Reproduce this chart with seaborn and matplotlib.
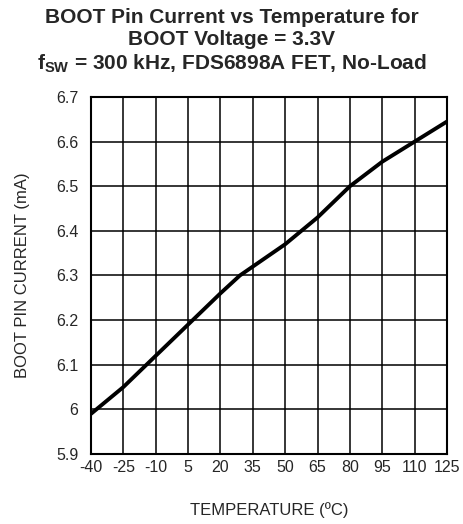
import pandas as pd
import numpy as np

import seaborn as sns
import matplotlib.pyplot as plt

sns.set_style("white")
plt.rcParams["font.family"] = ["Liberation Sans", "DejaVu Sans"]
plt.rcParams["mathtext.fontset"] = "custom"
plt.rcParams["mathtext.rm"] = "Liberation Sans:bold"
plt.rcParams["mathtext.bf"] = "Liberation Sans:bold"

DPI = 100
FIGSIZE = (4.63, 5.24)

temperature = [-40, -25, -10, 5, 20, 29, 35, 50, 65, 80, 95, 110, 125]
boot_current = [5.99, 6.05, 6.12, 6.19, 6.26, 6.30, 6.32, 6.37, 6.43, 6.50, 6.555, 6.60, 6.645]

x_ticks = [-40, -25, -10, 5, 20, 35, 50, 65, 80, 95, 110, 125]
y_ticks = [5.9, 6.0, 6.1, 6.2, 6.3, 6.4, 6.5, 6.6, 6.7]
y_tick_labels = ["5.9", "6", "6.1", "6.2", "6.3", "6.4", "6.5", "6.6", "6.7"]

df = pd.DataFrame({"temp": temperature, "current": boot_current})

fig = plt.figure(figsize=FIGSIZE, dpi=DPI)
ax = fig.add_axes([0.1965, 0.1336, 0.7689, 0.6813])

sns.lineplot(data=df, x="temp", y="current", ax=ax, color="black", linewidth=2.8)

ax.set_xlim(-40, 125)
ax.set_ylim(5.9, 6.7)
ax.set_xticks(x_ticks)
ax.set_xticklabels([str(t) for t in x_ticks], fontsize=11.5)
ax.set_yticks(y_ticks)
ax.set_yticklabels(y_tick_labels, fontsize=11.5)
ax.tick_params(axis="x", length=0, pad=4)
ax.tick_params(axis="y", length=0, pad=9)
ax.grid(True, color="black", linewidth=1.1)
for s in ax.spines.values():
    s.set_color("black")
    s.set_linewidth(1.5)

ax.set_xlabel("TEMPERATURE (ºC)", fontsize=12, labelpad=20)
ax.set_ylabel("BOOT PIN CURRENT (mA)", fontsize=12, labelpad=19)

fig.text(0.5, 0.985,
         "BOOT Pin Current vs Temperature for\nBOOT Voltage = 3.3V\n"
         r"f$_{\mathrm{SW}}$ = 300 kHz, FDS6898A FET, No-Load",
         ha="center", va="top", fontsize=15, fontweight="bold", linespacing=1.2)

fig.savefig("out.png", dpi=DPI)
